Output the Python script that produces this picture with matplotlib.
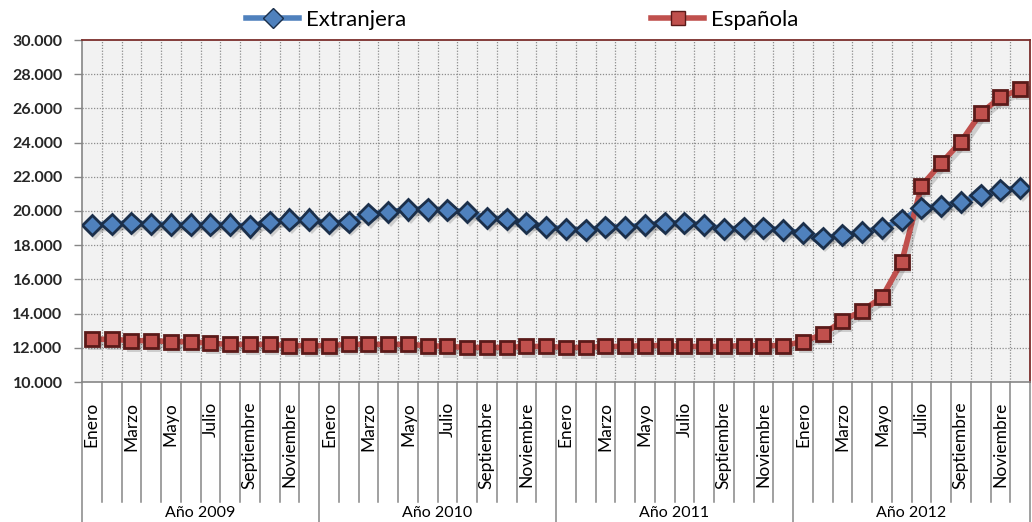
import numpy as np
import matplotlib
matplotlib.use("Agg")
import matplotlib.pyplot as plt
import matplotlib.patheffects as pe
from matplotlib.lines import Line2D
from matplotlib.ticker import FuncFormatter

# ── data ────────────────────────────────────────────────────
MESES = ["Enero", "Febrero", "Marzo", "Abril", "Mayo", "Junio", "Julio",
         "Agosto", "Septiembre", "Octubre", "Noviembre", "Diciembre"]
ANIOS = ["Año 2009", "Año 2010", "Año 2011", "Año 2012"]

extranjera = [
    19180, 19240, 19300, 19240, 19210, 19210, 19210, 19210, 19100, 19350, 19500, 19500,
    19300, 19360, 19820, 19940, 20100, 20100, 20060, 19940, 19590, 19530, 19300, 19060,
    18950, 18890, 19060, 19060, 19180, 19300, 19300, 19180, 18950, 19000, 19000, 18890,
    18710, 18420, 18600, 18770, 19000, 19470, 20170, 20290, 20530, 20940, 21230, 21350,
]
espanola = [
    12500, 12500, 12420, 12420, 12360, 12360, 12260, 12200, 12200, 12200, 12130, 12130,
    12130, 12200, 12200, 12200, 12200, 12130, 12080, 12020, 12020, 12020, 12080, 12080,
    12020, 12020, 12080, 12080, 12130, 12130, 12080, 12080, 12080, 12130, 12130, 12130,
    12360, 12790, 13570, 14170, 14950, 17000, 21460, 22790, 24050, 25710, 26650, 27120,
]

FONT = ["Lato", "DejaVu Sans"]
plt.rcParams["font.family"] = FONT

BLUE, BLUE_EDGE = "#4F81BD", "#1B2F4A"
RED, RED_EDGE = "#C0504D", "#5A1A19"

fig = plt.figure(figsize=(10.32, 5.22), dpi=100)
ax = fig.add_axes([82 / 1032, 140 / 522, 948 / 1032, 342 / 522])
ax.set_facecolor("#F2F2F2")

x = np.arange(len(extranjera))
shadow_line = [pe.SimpleLineShadow(offset=(2, -3), shadow_color="black", alpha=0.15), pe.Normal()]
shadow_mark = [pe.SimplePatchShadow(offset=(2, -3), shadow_rgbFace="black", alpha=0.15), pe.Normal()]

for vals, col, edge, mk, ms in [(extranjera, BLUE, BLUE_EDGE, "D", 10.5),
                                (espanola, RED, RED_EDGE, "s", 10)]:
    ax.plot(x, vals, color=col, lw=4, solid_capstyle="round",
            path_effects=shadow_line, zorder=3)
    ax.plot(x, vals, ls="none", marker=mk, ms=ms, mfc=col, mec=edge, mew=2,
            path_effects=shadow_mark, zorder=4)

ax.set_xlim(-0.5, len(x) - 0.5)
ax.set_ylim(10000, 30000)
ax.set_yticks(np.arange(10000, 30001, 2000))
ax.yaxis.set_major_formatter(FuncFormatter(lambda v, p: f"{int(v):,}".replace(",", ".")))
ax.tick_params(axis="y", length=6, width=1, color="#868686", pad=8,
               labelsize=11.5, labelcolor="#262626")
for lbl in ax.get_yticklabels():
    lbl.set_fontweight("bold")
ax.set_xticks([])

# grid
for yv in np.arange(12000, 30000, 2000):
    ax.axhline(yv, color="#8C8C8C", lw=0.9, ls=(0, (1, 1.3)), zorder=1)
for k in range(1, len(x)):
    ax.axvline(k - 0.5, color="#8C8C8C", lw=0.9, ls=(0, (1, 1.3)), zorder=1)

# frame
for side in ["top", "right"]:
    ax.spines[side].set_color("#7B2E2C")
    ax.spines[side].set_linewidth(1.3)
for side in ["left", "bottom"]:
    ax.spines[side].set_color("#868686")
    ax.spines[side].set_linewidth(1.2)

# category axis: months and years
trans = ax.get_xaxis_transform()
for k in range(len(x) + 1):
    bottom = -0.41 if k % 12 == 0 else -0.352
    ax.plot([k - 0.5, k - 0.5], [0, bottom], transform=trans, color="#868686",
            lw=1.1, clip_on=False)
for i in range(0, len(x), 2):
    ax.text(i, -0.058, MESES[i % 12], transform=trans, rotation=90,
            ha="center", va="top", fontsize=12.5, color="black")
for j, anio in enumerate(ANIOS):
    ax.text(j * 12 + 5.5, -0.382, anio, transform=trans, ha="center",
            va="center", fontsize=11.5, color="black")

# legend
handles = [
    Line2D([], [], color=BLUE, lw=4, marker="D", ms=10, mfc=BLUE, mec=BLUE_EDGE, mew=1),
    Line2D([], [], color=RED, lw=4, marker="s", ms=10, mfc=RED, mec=RED_EDGE, mew=1),
]
fig.legend(handles, ["Extranjera", "Española"], loc="center", ncol=2,
           bbox_to_anchor=(0.506, 0.962), frameon=False, fontsize=16,
           handlelength=2.4, handletextpad=0.3, columnspacing=11)

fig.savefig("out.png", dpi=100)
